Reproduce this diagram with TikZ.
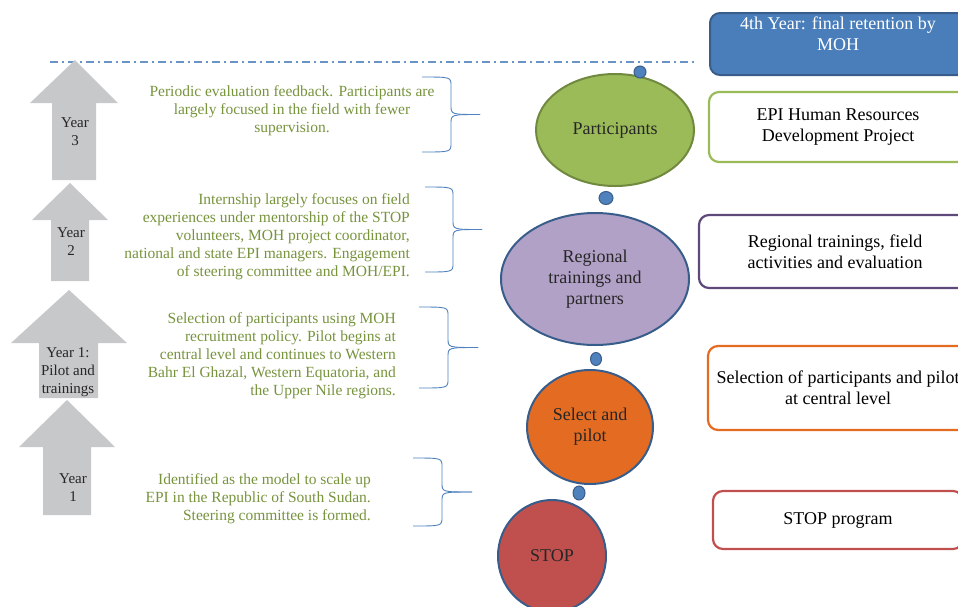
\documentclass[tikz,border=0pt]{standalone}
\usepackage{fontspec}
\setmainfont{Liberation Serif}
\usetikzlibrary{shapes.geometric}
\definecolor{epiblue}{HTML}{4A7EBB}
\definecolor{epiedge}{HTML}{385D8A}
\definecolor{epigreen}{HTML}{9BBB59}
\definecolor{epigreendark}{HTML}{71893F}
\definecolor{epipurple}{HTML}{B2A1C7}
\definecolor{epipurpledark}{HTML}{5F497A}
\definecolor{epiorange}{HTML}{E46C22}
\definecolor{epired}{HTML}{C0504D}
\definecolor{epitext}{HTML}{77933C}
\definecolor{yeargray}{HTML}{C7C8CA}
\definecolor{bracecol}{HTML}{4F81BD}
\def\sidebrace(#1,#2,#3,#4,#5){\draw[bracecol, line width=0.9pt] (#1,#2) .. controls (#4,#2) .. (#4,#2+9) -- (#4,{(#2+#3)/2-9}) .. controls (#4,{(#2+#3)/2}) .. (#5,{(#2+#3)/2}); \draw[bracecol, line width=0.9pt] (#1,#3) .. controls (#4,#3) .. (#4,#3-9) -- (#4,{(#2+#3)/2+9}) .. controls (#4,{(#2+#3)/2}) .. (#5,{(#2+#3)/2});}

\begin{document}
\begin{tikzpicture}[x=1pt, y=-1pt,
	stage/.style={ellipse, draw=epiedge, line width=2pt, inner sep=0pt, align=center, text=black!85, font=\fontsize{18}{21}\selectfont},
	dot/.style={ellipse, fill=bracecol, draw=epiedge, line width=1pt, inner sep=0pt},
	rbox/.style={rectangle, rounded corners=10pt, line width=2.2pt, fill=white, minimum width=258pt, align=center, text=black, font=\fontsize{18}{21}\selectfont},
	yeartext/.style={align=center, text=black!85, font=\fontsize{15}{18}\selectfont, inner sep=0pt},
	note/.style={text=epitext, font=\fontsize{15.5}{18}\selectfont, inner sep=0pt}]
		%%%%% START %%%%%
		\useasboundingbox (0,0) rectangle (958,606);
		\clip (0,0) rectangle (958,606);
		
		\draw[bracecol!85, line width=1.2pt, dash pattern=on 8pt off 4pt on 2pt off 4pt] (50,62) -- (695,62);
		
		% year arrows
		\fill[yeargray] (75,60) -- (118,103) -- (96,103) -- (96,180) -- (52,180) -- (52,103) -- (30,103) -- cycle;
		\fill[yeargray] (70,183) -- (108,220) -- (89,220) -- (89,281) -- (51,281) -- (51,220) -- (32,220) -- cycle;
		\fill[yeargray] (69,290) -- (127,343) -- (98,343) -- (98,398) -- (39,398) -- (39,343) -- (11,343) -- cycle;
		\fill[yeargray] (67,400) -- (115,447) -- (91,447) -- (91,515) -- (43,515) -- (43,447) -- (19,447) -- cycle;
		
		\node[yeartext] (yr3) at (75,132) {Year\\3};
		\node[yeartext] (yr2) at (71,242) {Year\\2};
		\node[yeartext] (yr1p) at (68,372) {Year 1:\\Pilot and\\trainings};
		\node[yeartext] (yr1) at (73,488) {Year\\1};
		
		% notes
		\node[note, align=center] (n3) at (292,111) {Periodic evaluation feedback. Participants are\\largely focused in the field with fewer\\supervision.};
		\node[note, align=right, anchor=east] (n2) at (410,237) {Internship largely focuses on field\\experiences under mentorship of the STOP\\volunteers, MOH project coordinator,\\national and state EPI managers. Engagement\\of steering committee and MOH/EPI.};
		\node[note, align=right, anchor=east] (n1p) at (396,356) {Selection of participants using MOH\\recruitment policy. Pilot begins at\\central level and continues to Western\\Bahr El Ghazal, Western Equatoria, and\\the Upper Nile regions.};
		\node[note, align=right, anchor=east] (n1) at (371,499) {Identified as the model to scale up\\EPI in the Republic of South Sudan.\\Steering committee is formed.};
		
		\sidebrace(422,77,152,451,480)
		\sidebrace(425,187,272,453,482)
		\sidebrace(419,307,388,448,478)
		\sidebrace(413,458,526,442,472)
		
		% stages
		\node[stage, fill=epigreen, draw=epigreendark, minimum width=158pt, minimum height=112pt] (part) at (615,130) {Participants};
		\node[stage, fill=epipurple, minimum width=188pt, minimum height=132pt] (reg) at (595,279) {Regional\\trainings and\\partners};
		\node[stage, fill=epiorange, minimum width=126pt, minimum height=114pt] (sel) at (590,427) {Select and\\pilot};
		\node[stage, fill=epired, minimum width=108pt, minimum height=112pt] (stop) at (552,556) {STOP};
		
		\node[dot, minimum width=12pt, minimum height=12pt] (d1) at (640,72) {};
		\node[dot, minimum width=14pt, minimum height=13pt] (d2) at (606,198) {};
		\node[dot, minimum width=11pt, minimum height=13pt] (d3) at (596,359) {};
		\node[dot, minimum width=12pt, minimum height=14pt] (d4) at (579,493) {};
		
		% boxes on the right
		\draw[fill=epiblue, draw=epiedge, line width=2pt, rounded corners=10pt] (710,75) -- (710,13) -- (975,13) -- (975,75) -- cycle;
		\node[align=center, text=white, font=\fontsize{18}{21}\selectfont] (ret) at (838,34) {4th Year: final retention by\\MOH};
		\node[rbox, draw=epigreen, minimum height=70pt] (hr) at (838,127) {EPI Human Resources\\Development Project};
		\node[rbox, draw=epipurpledark, minimum width=272pt, minimum height=73pt] (fld) at (835,251.5) {Regional trainings, field\\activities and evaluation};
		\node[rbox, draw=epiorange, minimum width=260pt, minimum height=84pt] (slc) at (838,388) {Selection of participants and pilot\\at central level};
		\node[rbox, draw=epired, minimum width=250pt, minimum height=58pt] (prg) at (838,520) {STOP program};
		
		%%%%% END %%%%%
	\end{tikzpicture}
\end{document}
